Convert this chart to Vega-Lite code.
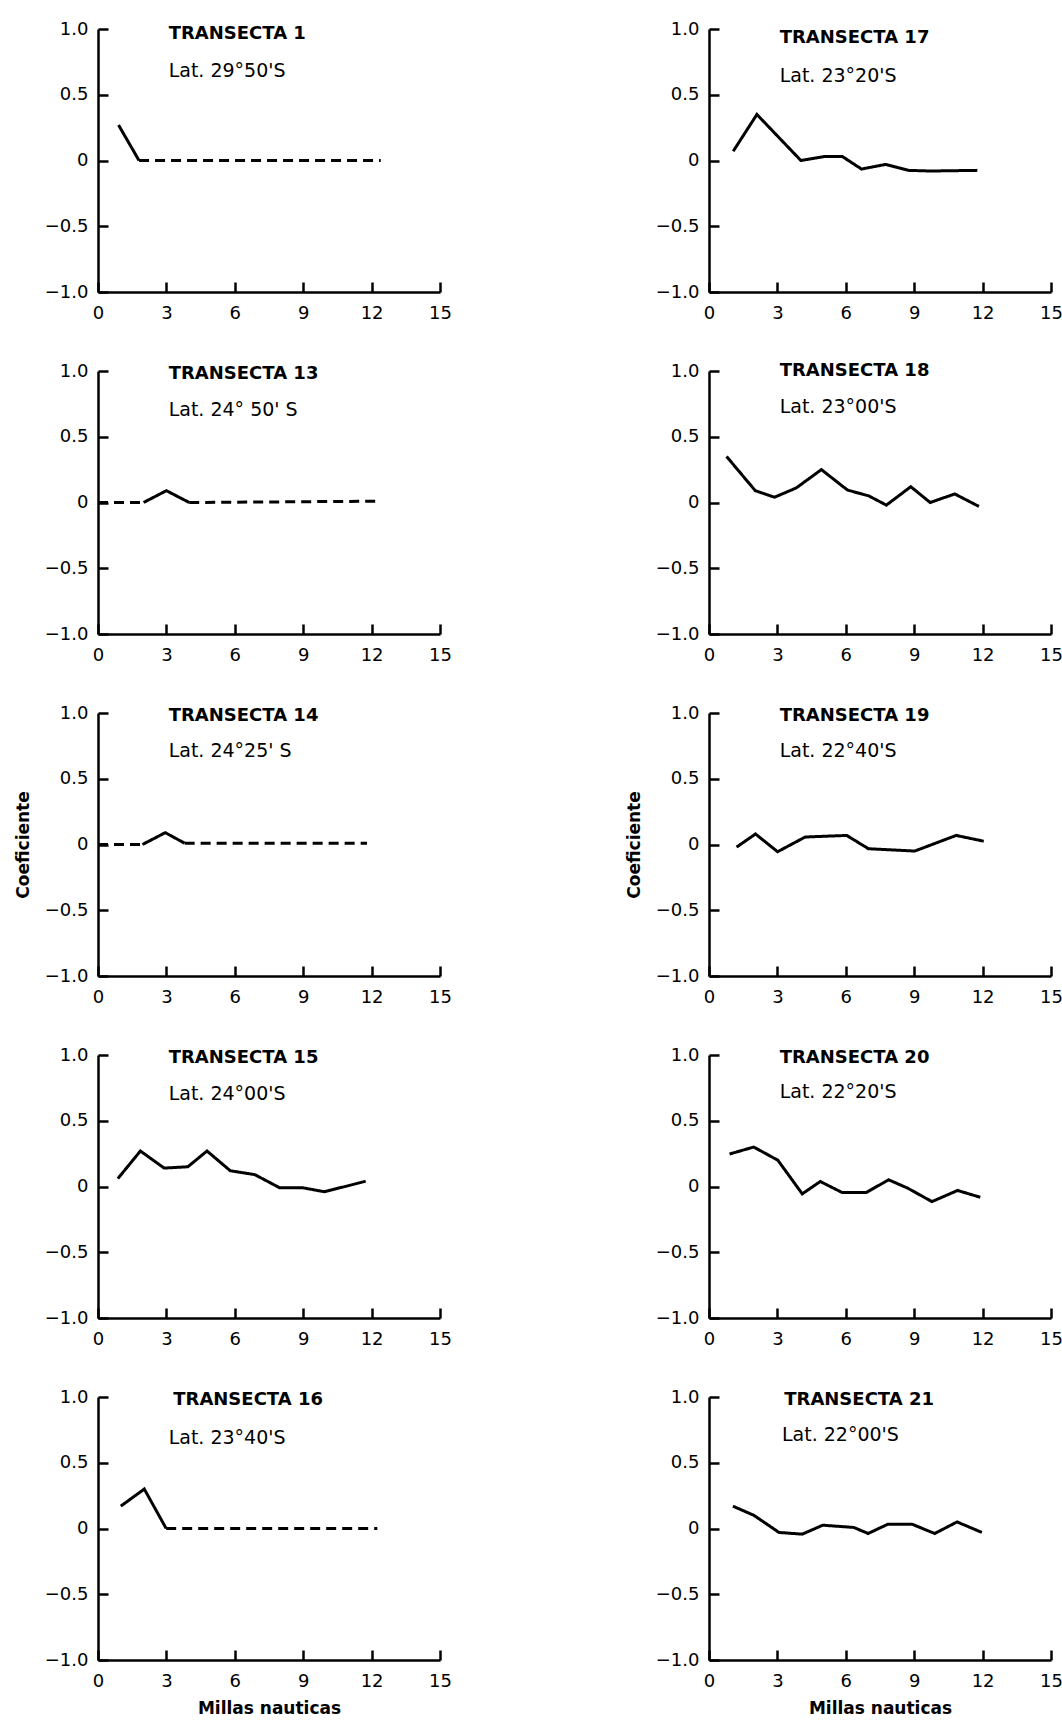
{
"$schema": "https://vega.github.io/schema/vega-lite/v6.json",
"padding": {"left": 14, "top": 20, "right": 5, "bottom": 5},
"background": "white",
"datasets": {
"lines": [
{"p":"T1","seg":"a","st":"solid","x":0.9,"y":0.27},{"p":"T1","seg":"a","st":"solid","x":1.8,"y":0},
{"p":"T1","seg":"b","st":"dashed","x":1.8,"y":0},{"p":"T1","seg":"b","st":"dashed","x":12.4,"y":0},
{"p":"T13","seg":"a","st":"dashed","x":0,"y":0},{"p":"T13","seg":"a","st":"dashed","x":2,"y":0},
{"p":"T13","seg":"b","st":"solid","x":2,"y":0},{"p":"T13","seg":"b","st":"solid","x":3,"y":0.09},{"p":"T13","seg":"b","st":"solid","x":4,"y":0},
{"p":"T13","seg":"c","st":"dashed","x":4,"y":0},{"p":"T13","seg":"c","st":"dashed","x":12.4,"y":0.01},
{"p":"T14","seg":"a","st":"dashed","x":0,"y":0},{"p":"T14","seg":"a","st":"dashed","x":1.95,"y":0},
{"p":"T14","seg":"b","st":"solid","x":1.95,"y":0},{"p":"T14","seg":"b","st":"solid","x":2.95,"y":0.09},{"p":"T14","seg":"b","st":"solid","x":3.8,"y":0.01},
{"p":"T14","seg":"c","st":"dashed","x":3.8,"y":0.01},{"p":"T14","seg":"c","st":"dashed","x":11.8,"y":0.01},
{"p":"T15","seg":"a","st":"solid","x":0.87,"y":0.06},{"p":"T15","seg":"a","st":"solid","x":1.86,"y":0.27},{"p":"T15","seg":"a","st":"solid","x":2.9,"y":0.14},{"p":"T15","seg":"a","st":"solid","x":3.94,"y":0.15},{"p":"T15","seg":"a","st":"solid","x":4.78,"y":0.27},{"p":"T15","seg":"a","st":"solid","x":5.8,"y":0.12},{"p":"T15","seg":"a","st":"solid","x":6.88,"y":0.09},{"p":"T15","seg":"a","st":"solid","x":7.97,"y":-0.01},{"p":"T15","seg":"a","st":"solid","x":8.99,"y":-0.01},{"p":"T15","seg":"a","st":"solid","x":9.93,"y":-0.04},{"p":"T15","seg":"a","st":"solid","x":11.74,"y":0.04},
{"p":"T16","seg":"a","st":"solid","x":1.0,"y":0.17},{"p":"T16","seg":"a","st":"solid","x":2.03,"y":0.3},{"p":"T16","seg":"a","st":"solid","x":2.99,"y":0},
{"p":"T16","seg":"b","st":"dashed","x":2.99,"y":0},{"p":"T16","seg":"b","st":"dashed","x":12.25,"y":0},
{"p":"T17","seg":"a","st":"solid","x":1.06,"y":0.07},{"p":"T17","seg":"a","st":"solid","x":2.1,"y":0.35},{"p":"T17","seg":"a","st":"solid","x":4.03,"y":0},{"p":"T17","seg":"a","st":"solid","x":5.05,"y":0.03},{"p":"T17","seg":"a","st":"solid","x":5.85,"y":0.03},{"p":"T17","seg":"a","st":"solid","x":6.69,"y":-0.065},{"p":"T17","seg":"a","st":"solid","x":7.74,"y":-0.03},{"p":"T17","seg":"a","st":"solid","x":8.75,"y":-0.075},{"p":"T17","seg":"a","st":"solid","x":9.7,"y":-0.08},{"p":"T17","seg":"a","st":"solid","x":11.77,"y":-0.075},
{"p":"T18","seg":"a","st":"solid","x":0.77,"y":0.35},{"p":"T18","seg":"a","st":"solid","x":2.03,"y":0.09},{"p":"T18","seg":"a","st":"solid","x":2.87,"y":0.04},{"p":"T18","seg":"a","st":"solid","x":3.82,"y":0.11},{"p":"T18","seg":"a","st":"solid","x":4.93,"y":0.25},{"p":"T18","seg":"a","st":"solid","x":6.07,"y":0.095},{"p":"T18","seg":"a","st":"solid","x":7.01,"y":0.05},{"p":"T18","seg":"a","st":"solid","x":7.78,"y":-0.02},{"p":"T18","seg":"a","st":"solid","x":8.85,"y":0.12},{"p":"T18","seg":"a","st":"solid","x":9.7,"y":0.0},{"p":"T18","seg":"a","st":"solid","x":10.78,"y":0.065},{"p":"T18","seg":"a","st":"solid","x":11.84,"y":-0.03},
{"p":"T19","seg":"a","st":"solid","x":1.21,"y":-0.02},{"p":"T19","seg":"a","st":"solid","x":2.04,"y":0.08},{"p":"T19","seg":"a","st":"solid","x":3.01,"y":-0.055},{"p":"T19","seg":"a","st":"solid","x":4.22,"y":0.057},{"p":"T19","seg":"a","st":"solid","x":6.04,"y":0.069},{"p":"T19","seg":"a","st":"solid","x":6.99,"y":-0.032},{"p":"T19","seg":"a","st":"solid","x":9.02,"y":-0.05},{"p":"T19","seg":"a","st":"solid","x":10.84,"y":0.069},{"p":"T19","seg":"a","st":"solid","x":12.05,"y":0.025},
{"p":"T20","seg":"a","st":"solid","x":0.9,"y":0.247},{"p":"T20","seg":"a","st":"solid","x":1.96,"y":0.3},{"p":"T20","seg":"a","st":"solid","x":3.02,"y":0.2},{"p":"T20","seg":"a","st":"solid","x":4.09,"y":-0.056},{"p":"T20","seg":"a","st":"solid","x":4.88,"y":0.038},{"p":"T20","seg":"a","st":"solid","x":5.84,"y":-0.046},{"p":"T20","seg":"a","st":"solid","x":6.89,"y":-0.046},{"p":"T20","seg":"a","st":"solid","x":7.88,"y":0.051},{"p":"T20","seg":"a","st":"solid","x":8.72,"y":-0.013},{"p":"T20","seg":"a","st":"solid","x":9.78,"y":-0.115},{"p":"T20","seg":"a","st":"solid","x":10.9,"y":-0.03},{"p":"T20","seg":"a","st":"solid","x":11.9,"y":-0.082},
{"p":"T21","seg":"a","st":"solid","x":1.05,"y":0.17},{"p":"T21","seg":"a","st":"solid","x":1.97,"y":0.1},{"p":"T21","seg":"a","st":"solid","x":3.07,"y":-0.03},{"p":"T21","seg":"a","st":"solid","x":4.09,"y":-0.043},{"p":"T21","seg":"a","st":"solid","x":4.99,"y":0.025},{"p":"T21","seg":"a","st":"solid","x":6.35,"y":0.008},{"p":"T21","seg":"a","st":"solid","x":6.98,"y":-0.038},{"p":"T21","seg":"a","st":"solid","x":7.85,"y":0.033},{"p":"T21","seg":"a","st":"solid","x":8.9,"y":0.033},{"p":"T21","seg":"a","st":"solid","x":9.9,"y":-0.038},{"p":"T21","seg":"a","st":"solid","x":10.88,"y":0.05},{"p":"T21","seg":"a","st":"solid","x":11.97,"y":-0.03}
],
"labels": [
{"p":"T1","t":"TRANSECTA  1","lat":"Lat. 29°50'S"},
{"p":"T13","t":"TRANSECTA 13","lat":"Lat. 24° 50' S"},
{"p":"T14","t":"TRANSECTA 14","lat":"Lat. 24°25' S"},
{"p":"T15","t":"TRANSECTA 15","lat":"Lat. 24°00'S"},
{"p":"T16","t":"TRANSECTA 16","lat":"Lat. 23°40'S"},
{"p":"T17","t":"TRANSECTA 17","lat":"Lat. 23°20'S"},
{"p":"T18","t":"TRANSECTA 18","lat":"Lat. 23°00'S"},
{"p":"T19","t":"TRANSECTA 19","lat":"Lat. 22°40'S"},
{"p":"T20","t":"TRANSECTA 20","lat":"Lat. 22°20'S"},
{"p":"T21","t":"TRANSECTA 21","lat":"Lat. 22°00'S"}
]
},
"columns": 2,
"spacing": {"row": 79, "column": 269},
"bounds": "flush",
"concat": [
{"width":342,"height":263,"layer":[
{"data":{"name":"lines"},"transform":[{"filter":"datum.p=='T1'"}],"mark":{"type":"line","color":"black","strokeWidth":3},"encoding":{"x":{"field":"x","type":"quantitative","scale":{"domain":[0,15],"nice":false},"axis":{"values":[0,3,6,9,12,15],"title":null}},"y":{"field":"y","type":"quantitative","scale":{"domain":[-1,1],"nice":false},"axis":{"values":[-1,-0.5,0,0.5,1],"labelExpr":"datum.value == 0 ? '0' : format(datum.value, '.1f')","title":null}},"detail":{"field":"seg"},"strokeDash":{"field":"st","type":"nominal","scale":{"domain":["solid","dashed"],"range":[[1,0],[10,6]]},"legend":null}}},
{"data":{"name":"labels"},"transform":[{"filter":"datum.p=='T1'"}],"mark":{"type":"text","align":"left","baseline":"middle","fontWeight":"bold","fontSize":18},"encoding":{"x":{"datum":3.1,"type":"quantitative"},"y":{"datum":0.96,"type":"quantitative"},"text":{"field":"t"}}},
{"data":{"name":"labels"},"transform":[{"filter":"datum.p=='T1'"}],"mark":{"type":"text","align":"left","baseline":"middle","fontSize":19},"encoding":{"x":{"datum":3.1,"type":"quantitative"},"y":{"datum":0.68,"type":"quantitative"},"text":{"field":"lat"}}}
]},
{"width":342,"height":263,"layer":[
{"data":{"name":"lines"},"transform":[{"filter":"datum.p=='T17'"}],"mark":{"type":"line","color":"black","strokeWidth":3},"encoding":{"x":{"field":"x","type":"quantitative","scale":{"domain":[0,15],"nice":false},"axis":{"values":[0,3,6,9,12,15],"title":null}},"y":{"field":"y","type":"quantitative","scale":{"domain":[-1,1],"nice":false},"axis":{"values":[-1,-0.5,0,0.5,1],"labelExpr":"datum.value == 0 ? '0' : format(datum.value, '.1f')","title":null}},"detail":{"field":"seg"},"strokeDash":{"field":"st","type":"nominal","scale":{"domain":["solid","dashed"],"range":[[1,0],[10,6]]},"legend":null}}},
{"data":{"name":"labels"},"transform":[{"filter":"datum.p=='T17'"}],"mark":{"type":"text","align":"left","baseline":"middle","fontWeight":"bold","fontSize":18},"encoding":{"x":{"datum":3.1,"type":"quantitative"},"y":{"datum":0.93,"type":"quantitative"},"text":{"field":"t"}}},
{"data":{"name":"labels"},"transform":[{"filter":"datum.p=='T17'"}],"mark":{"type":"text","align":"left","baseline":"middle","fontSize":19},"encoding":{"x":{"datum":3.1,"type":"quantitative"},"y":{"datum":0.64,"type":"quantitative"},"text":{"field":"lat"}}}
]},
{"width":342,"height":263,"layer":[
{"data":{"name":"lines"},"transform":[{"filter":"datum.p=='T13'"}],"mark":{"type":"line","color":"black","strokeWidth":3},"encoding":{"x":{"field":"x","type":"quantitative","scale":{"domain":[0,15],"nice":false},"axis":{"values":[0,3,6,9,12,15],"title":null}},"y":{"field":"y","type":"quantitative","scale":{"domain":[-1,1],"nice":false},"axis":{"values":[-1,-0.5,0,0.5,1],"labelExpr":"datum.value == 0 ? '0' : format(datum.value, '.1f')","title":null}},"detail":{"field":"seg"},"strokeDash":{"field":"st","type":"nominal","scale":{"domain":["solid","dashed"],"range":[[1,0],[10,6]]},"legend":null}}},
{"data":{"name":"labels"},"transform":[{"filter":"datum.p=='T13'"}],"mark":{"type":"text","align":"left","baseline":"middle","fontWeight":"bold","fontSize":18},"encoding":{"x":{"datum":3.1,"type":"quantitative"},"y":{"datum":0.98,"type":"quantitative"},"text":{"field":"t"}}},
{"data":{"name":"labels"},"transform":[{"filter":"datum.p=='T13'"}],"mark":{"type":"text","align":"left","baseline":"middle","fontSize":19},"encoding":{"x":{"datum":3.1,"type":"quantitative"},"y":{"datum":0.7,"type":"quantitative"},"text":{"field":"lat"}}}
]},
{"width":342,"height":263,"layer":[
{"data":{"name":"lines"},"transform":[{"filter":"datum.p=='T18'"}],"mark":{"type":"line","color":"black","strokeWidth":3},"encoding":{"x":{"field":"x","type":"quantitative","scale":{"domain":[0,15],"nice":false},"axis":{"values":[0,3,6,9,12,15],"title":null}},"y":{"field":"y","type":"quantitative","scale":{"domain":[-1,1],"nice":false},"axis":{"values":[-1,-0.5,0,0.5,1],"labelExpr":"datum.value == 0 ? '0' : format(datum.value, '.1f')","title":null}},"detail":{"field":"seg"},"strokeDash":{"field":"st","type":"nominal","scale":{"domain":["solid","dashed"],"range":[[1,0],[10,6]]},"legend":null}}},
{"data":{"name":"labels"},"transform":[{"filter":"datum.p=='T18'"}],"mark":{"type":"text","align":"left","baseline":"middle","fontWeight":"bold","fontSize":18},"encoding":{"x":{"datum":3.1,"type":"quantitative"},"y":{"datum":1.0,"type":"quantitative"},"text":{"field":"t"}}},
{"data":{"name":"labels"},"transform":[{"filter":"datum.p=='T18'"}],"mark":{"type":"text","align":"left","baseline":"middle","fontSize":19},"encoding":{"x":{"datum":3.1,"type":"quantitative"},"y":{"datum":0.73,"type":"quantitative"},"text":{"field":"lat"}}}
]},
{"width":342,"height":263,"layer":[
{"data":{"name":"lines"},"transform":[{"filter":"datum.p=='T14'"}],"mark":{"type":"line","color":"black","strokeWidth":3},"encoding":{"x":{"field":"x","type":"quantitative","scale":{"domain":[0,15],"nice":false},"axis":{"values":[0,3,6,9,12,15],"title":null}},"y":{"field":"y","type":"quantitative","scale":{"domain":[-1,1],"nice":false},"axis":{"values":[-1,-0.5,0,0.5,1],"labelExpr":"datum.value == 0 ? '0' : format(datum.value, '.1f')","title":"Coeficiente"}},"detail":{"field":"seg"},"strokeDash":{"field":"st","type":"nominal","scale":{"domain":["solid","dashed"],"range":[[1,0],[10,6]]},"legend":null}}},
{"data":{"name":"labels"},"transform":[{"filter":"datum.p=='T14'"}],"mark":{"type":"text","align":"left","baseline":"middle","fontWeight":"bold","fontSize":18},"encoding":{"x":{"datum":3.1,"type":"quantitative"},"y":{"datum":0.98,"type":"quantitative"},"text":{"field":"t"}}},
{"data":{"name":"labels"},"transform":[{"filter":"datum.p=='T14'"}],"mark":{"type":"text","align":"left","baseline":"middle","fontSize":19},"encoding":{"x":{"datum":3.1,"type":"quantitative"},"y":{"datum":0.71,"type":"quantitative"},"text":{"field":"lat"}}}
]},
{"width":342,"height":263,"layer":[
{"data":{"name":"lines"},"transform":[{"filter":"datum.p=='T19'"}],"mark":{"type":"line","color":"black","strokeWidth":3},"encoding":{"x":{"field":"x","type":"quantitative","scale":{"domain":[0,15],"nice":false},"axis":{"values":[0,3,6,9,12,15],"title":null}},"y":{"field":"y","type":"quantitative","scale":{"domain":[-1,1],"nice":false},"axis":{"values":[-1,-0.5,0,0.5,1],"labelExpr":"datum.value == 0 ? '0' : format(datum.value, '.1f')","title":"Coeficiente"}},"detail":{"field":"seg"},"strokeDash":{"field":"st","type":"nominal","scale":{"domain":["solid","dashed"],"range":[[1,0],[10,6]]},"legend":null}}},
{"data":{"name":"labels"},"transform":[{"filter":"datum.p=='T19'"}],"mark":{"type":"text","align":"left","baseline":"middle","fontWeight":"bold","fontSize":18},"encoding":{"x":{"datum":3.1,"type":"quantitative"},"y":{"datum":0.98,"type":"quantitative"},"text":{"field":"t"}}},
{"data":{"name":"labels"},"transform":[{"filter":"datum.p=='T19'"}],"mark":{"type":"text","align":"left","baseline":"middle","fontSize":19},"encoding":{"x":{"datum":3.1,"type":"quantitative"},"y":{"datum":0.71,"type":"quantitative"},"text":{"field":"lat"}}}
]},
{"width":342,"height":263,"layer":[
{"data":{"name":"lines"},"transform":[{"filter":"datum.p=='T15'"}],"mark":{"type":"line","color":"black","strokeWidth":3},"encoding":{"x":{"field":"x","type":"quantitative","scale":{"domain":[0,15],"nice":false},"axis":{"values":[0,3,6,9,12,15],"title":null}},"y":{"field":"y","type":"quantitative","scale":{"domain":[-1,1],"nice":false},"axis":{"values":[-1,-0.5,0,0.5,1],"labelExpr":"datum.value == 0 ? '0' : format(datum.value, '.1f')","title":null}},"detail":{"field":"seg"},"strokeDash":{"field":"st","type":"nominal","scale":{"domain":["solid","dashed"],"range":[[1,0],[10,6]]},"legend":null}}},
{"data":{"name":"labels"},"transform":[{"filter":"datum.p=='T15'"}],"mark":{"type":"text","align":"left","baseline":"middle","fontWeight":"bold","fontSize":18},"encoding":{"x":{"datum":3.1,"type":"quantitative"},"y":{"datum":0.98,"type":"quantitative"},"text":{"field":"t"}}},
{"data":{"name":"labels"},"transform":[{"filter":"datum.p=='T15'"}],"mark":{"type":"text","align":"left","baseline":"middle","fontSize":19},"encoding":{"x":{"datum":3.1,"type":"quantitative"},"y":{"datum":0.7,"type":"quantitative"},"text":{"field":"lat"}}}
]},
{"width":342,"height":263,"layer":[
{"data":{"name":"lines"},"transform":[{"filter":"datum.p=='T20'"}],"mark":{"type":"line","color":"black","strokeWidth":3},"encoding":{"x":{"field":"x","type":"quantitative","scale":{"domain":[0,15],"nice":false},"axis":{"values":[0,3,6,9,12,15],"title":null}},"y":{"field":"y","type":"quantitative","scale":{"domain":[-1,1],"nice":false},"axis":{"values":[-1,-0.5,0,0.5,1],"labelExpr":"datum.value == 0 ? '0' : format(datum.value, '.1f')","title":null}},"detail":{"field":"seg"},"strokeDash":{"field":"st","type":"nominal","scale":{"domain":["solid","dashed"],"range":[[1,0],[10,6]]},"legend":null}}},
{"data":{"name":"labels"},"transform":[{"filter":"datum.p=='T20'"}],"mark":{"type":"text","align":"left","baseline":"middle","fontWeight":"bold","fontSize":18},"encoding":{"x":{"datum":3.1,"type":"quantitative"},"y":{"datum":0.98,"type":"quantitative"},"text":{"field":"t"}}},
{"data":{"name":"labels"},"transform":[{"filter":"datum.p=='T20'"}],"mark":{"type":"text","align":"left","baseline":"middle","fontSize":19},"encoding":{"x":{"datum":3.1,"type":"quantitative"},"y":{"datum":0.72,"type":"quantitative"},"text":{"field":"lat"}}}
]},
{"width":342,"height":263,"layer":[
{"data":{"name":"lines"},"transform":[{"filter":"datum.p=='T16'"}],"mark":{"type":"line","color":"black","strokeWidth":3},"encoding":{"x":{"field":"x","type":"quantitative","scale":{"domain":[0,15],"nice":false},"axis":{"values":[0,3,6,9,12,15],"title":"Millas nauticas"}},"y":{"field":"y","type":"quantitative","scale":{"domain":[-1,1],"nice":false},"axis":{"values":[-1,-0.5,0,0.5,1],"labelExpr":"datum.value == 0 ? '0' : format(datum.value, '.1f')","title":null}},"detail":{"field":"seg"},"strokeDash":{"field":"st","type":"nominal","scale":{"domain":["solid","dashed"],"range":[[1,0],[10,6]]},"legend":null}}},
{"data":{"name":"labels"},"transform":[{"filter":"datum.p=='T16'"}],"mark":{"type":"text","align":"left","baseline":"middle","fontWeight":"bold","fontSize":18},"encoding":{"x":{"datum":3.3,"type":"quantitative"},"y":{"datum":0.98,"type":"quantitative"},"text":{"field":"t"}}},
{"data":{"name":"labels"},"transform":[{"filter":"datum.p=='T16'"}],"mark":{"type":"text","align":"left","baseline":"middle","fontSize":19},"encoding":{"x":{"datum":3.1,"type":"quantitative"},"y":{"datum":0.69,"type":"quantitative"},"text":{"field":"lat"}}}
]},
{"width":342,"height":263,"layer":[
{"data":{"name":"lines"},"transform":[{"filter":"datum.p=='T21'"}],"mark":{"type":"line","color":"black","strokeWidth":3},"encoding":{"x":{"field":"x","type":"quantitative","scale":{"domain":[0,15],"nice":false},"axis":{"values":[0,3,6,9,12,15],"title":"Millas nauticas"}},"y":{"field":"y","type":"quantitative","scale":{"domain":[-1,1],"nice":false},"axis":{"values":[-1,-0.5,0,0.5,1],"labelExpr":"datum.value == 0 ? '0' : format(datum.value, '.1f')","title":null}},"detail":{"field":"seg"},"strokeDash":{"field":"st","type":"nominal","scale":{"domain":["solid","dashed"],"range":[[1,0],[10,6]]},"legend":null}}},
{"data":{"name":"labels"},"transform":[{"filter":"datum.p=='T21'"}],"mark":{"type":"text","align":"left","baseline":"middle","fontWeight":"bold","fontSize":18},"encoding":{"x":{"datum":3.3,"type":"quantitative"},"y":{"datum":0.98,"type":"quantitative"},"text":{"field":"t"}}},
{"data":{"name":"labels"},"transform":[{"filter":"datum.p=='T21'"}],"mark":{"type":"text","align":"left","baseline":"middle","fontSize":19},"encoding":{"x":{"datum":3.2,"type":"quantitative"},"y":{"datum":0.71,"type":"quantitative"},"text":{"field":"lat"}}}
]}
],
"config": {
"view": {"stroke": null},
"font": "DejaVu Sans",
"text": {"color": "black", "font": "DejaVu Sans"},
"axis": {"domainColor": "black", "domainWidth": 2.5, "tickColor": "black", "tickWidth": 2.5, "tickSize": -10, "grid": false, "labelFont": "DejaVu Sans", "labelFontSize": 18, "labelColor": "black", "titleFont": "DejaVu Sans", "titleFontSize": 17, "titleFontWeight": "bold", "titleColor": "black"},
"axisX": {"labelPadding": 22, "titlePadding": 10, "labelFlush": false},
"axisY": {"labelPadding": 20, "titlePadding": 12}
}
}
